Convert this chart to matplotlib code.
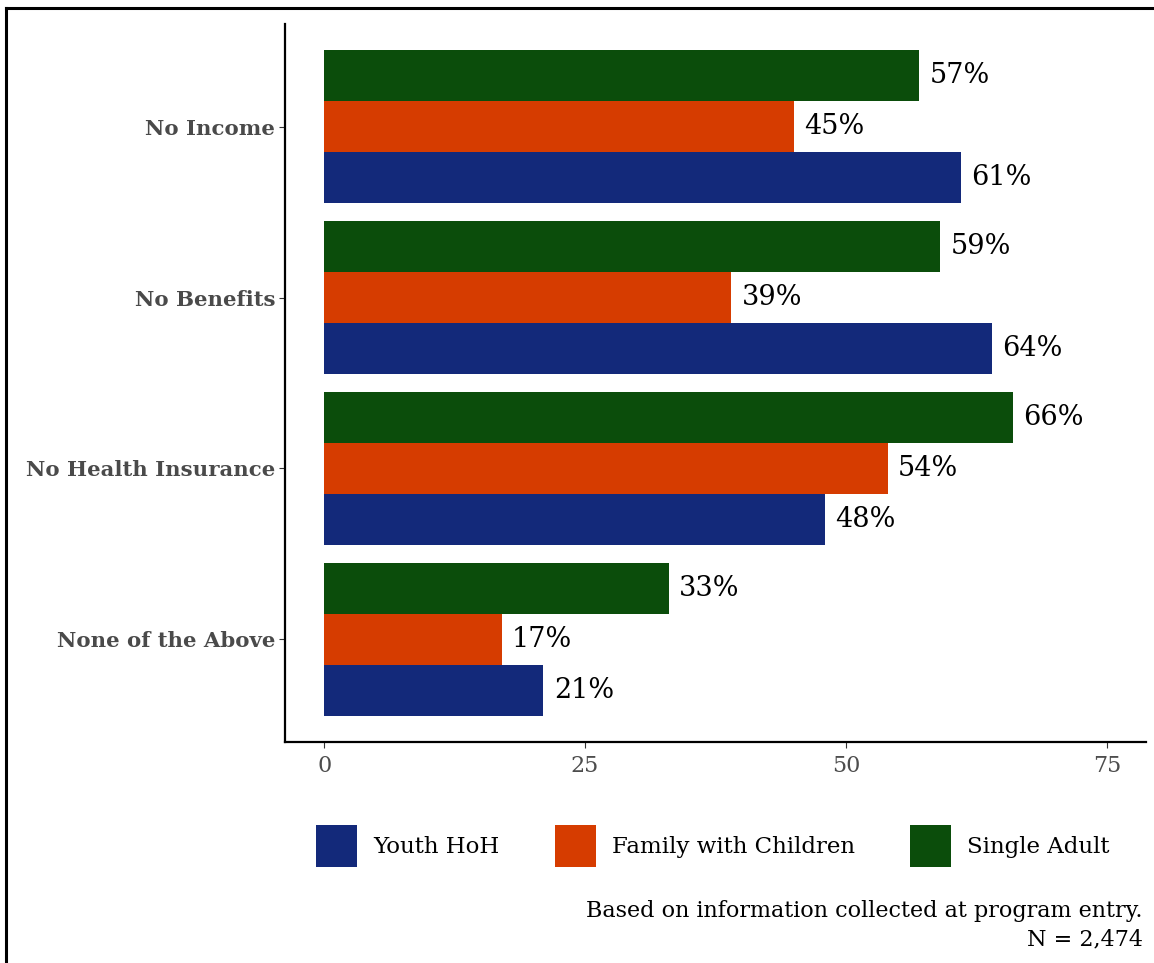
import matplotlib
matplotlib.use("Agg")
import matplotlib.pyplot as plt
import numpy as np
from matplotlib.lines import Line2D

categories = ["No Income", "No Benefits", "No Health Insurance", "None of the Above"]
series_names = ["Youth HoH", "Family with Children", "Single Adult"]
youth = [61, 64, 48, 21]
family = [45, 39, 54, 17]
single = [57, 59, 66, 33]
colors = ["#13297a", "#d63c00", "#0b4d0b"]
xticks = [0, 25, 50, 75]
caption = "Based on information collected at program entry.\nN = 2,474"

plt.rcParams['font.family'] = ['DejaVu Serif']

fig = plt.figure(figsize=(11.54, 9.63), dpi=100)
ax = fig.add_axes([285/1154, 1-742/963, (1146-285)/1154, (742-24)/963])

n = len(categories)
ypos = np.arange(n, 0, -1)  # No Income at top
bh = 0.3
offsets = [-bh, 0, bh]
series = [youth, family, single]
for vals, off, col, name in zip(series, offsets, colors, series_names):
    ax.barh(ypos + off, vals, height=bh, color=col, label=name)
    for y, v in zip(ypos + off, vals):
        ax.text(v + 1.0, y, f"{v}%", va="center", ha="left", fontsize=19.5, color="black")

ax.set_xlim(-3.75, 78.75)
ax.set_ylim(0.4, n + 0.6)
ax.set_yticks(ypos)
ax.set_yticklabels(categories, fontsize=15.3, color="#4a4a4a", fontweight="semibold")
ax.set_xticks(xticks)
ax.set_xticklabels([str(t) for t in xticks], fontsize=16, color="#4d4d4d")
ax.tick_params(axis="both", length=4, width=0.8, color="#333333")
ax.tick_params(axis="x", pad=5)
ax.tick_params(axis="y", pad=3)
for s in ["top", "right"]:
    ax.spines[s].set_visible(False)
for s in ["left", "bottom"]:
    ax.spines[s].set_linewidth(1.6)
    ax.spines[s].set_color("black")

handles, labels = ax.get_legend_handles_labels()
leg = fig.legend(handles, labels, loc="center", bbox_to_anchor=(713/1154, 1-846/963),
                 ncol=3, frameon=False, fontsize=16.5, handlelength=1.8, handleheight=2.4,
                 columnspacing=2.4, handletextpad=0.7)

fig.text(1143/1154, 1-925/963, caption, ha="right", va="center", fontsize=16,
         linespacing=1.35, color="black")

fig.add_artist(Line2D([6/1154, 1.0], [1-8/963, 1-8/963], transform=fig.transFigure,
                      color="black", linewidth=2.2))
fig.add_artist(Line2D([6/1154, 6/1154], [0.0, 1-8/963], transform=fig.transFigure,
                      color="black", linewidth=2.2))

fig.savefig("out.png", dpi=100)
